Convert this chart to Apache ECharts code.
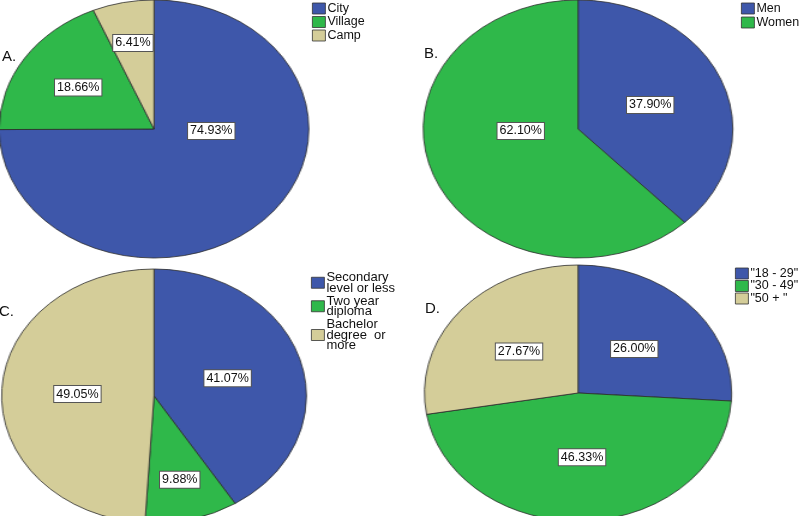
<!DOCTYPE html>
<html>
<head>
<meta charset="utf-8">
<script src="https://cdn.jsdelivr.net/npm/echarts@6/dist/echarts.min.js"></script>
<style>
html, body { margin: 0; padding: 0; background: #fff; overflow: hidden; }
#wrap { position: relative; width: 800px; height: 516px; overflow: hidden; }
/* slices are drawn as circles, then widened into SPSS-style ellipses */
#pies { position: absolute; left: 0; top: 0; width: 666.667px; height: 516px; transform: scaleX(1.2); transform-origin: 0 0; }
#labels { position: absolute; left: 0; top: 0; width: 800px; height: 516px; }
</style>
</head>
<body>
<div id="wrap"><div id="pies"></div><div id="labels"></div></div>
<script>
var residence = ['City', 'Village', 'Camp'];
var residenceValues = [74.93, 18.66, 6.41];
var gender = ['Men', 'Women'];
var genderValues = [37.90, 62.10];
var education = ['Secondary\nlevel or less', 'Two year\ndiploma', 'Bachelor\ndegree  or\nmore'];
var educationValues = [41.07, 9.88, 49.05];
var ageGroups = ['"18 - 29"', '"30 - 49"', '"50 + "'];
var ageValues = [26.00, 46.33, 27.67];
var panelLetters = ['A.', 'B.', 'C.', 'D.'];

var colors = ['#3e57aa', '#2fb84a', '#d4cd99'];
var STRETCH = 1.2;
var FONT = 'Liberation Sans, Arial, sans-serif';

var panels = [
    {names: residence, values: residenceValues, center: [154, 129], r: 129, letter: [2, 49], legend: [312, 2], gap: 0.5, fs: 12.5},
    {names: gender, values: genderValues, center: [578, 129], r: 129, letter: [424, 46], legend: [741, 2], gap: 1, fs: 12.5},
    {names: education, values: educationValues, center: [154, 396], r: 127, letter: [-1, 304], legend: [311, 271], gap: 0, fs: 13},
    {names: ageGroups, values: ageValues, center: [578, 393], r: 128, letter: [425, 301], legend: [735, 267], gap: -0.5, fs: 12.5}
];

function pieData(p, withColor) {
    return p.names.map(function (n, i) {
        var d = {name: n, value: p.values[i]};
        d.itemStyle = withColor ? {color: colors[i]} : {color: 'rgba(0,0,0,0)'};
        return d;
    });
}

var chart_pies = echarts.init(document.getElementById('pies'), null, {renderer: 'canvas'});
chart_pies.setOption({
    animation: false,
    series: panels.map(function (p) {
        return {
            type: 'pie',
            center: [p.center[0] / STRETCH, p.center[1]],
            radius: p.r,
            startAngle: 90,
            clockwise: true,
            silent: true,
            label: {show: false},
            labelLine: {show: false},
            itemStyle: {borderColor: '#2b2b2b', borderWidth: 0.8},
            emphasis: {disabled: true},
            data: pieData(p, true)
        };
    })
});

var chart_labels = echarts.init(document.getElementById('labels'), null, {renderer: 'canvas'});
chart_labels.setOption({
    animation: false,
    title: panels.map(function (p, i) {
        return {
            text: panelLetters[i], left: p.letter[0], top: p.letter[1], padding: 0,
            textStyle: {fontFamily: FONT, fontSize: 15, fontWeight: 'normal', color: '#111'}
        };
    }),
    legend: panels.map(function (p) {
        return {
            orient: 'vertical', left: p.legend[0], top: p.legend[1], padding: 0,
            icon: 'rect', itemWidth: 13, itemHeight: 11, itemGap: p.gap,
            selectedMode: false,
            textStyle: {fontFamily: FONT, fontSize: p.fs, color: '#111', lineHeight: 10.5, padding: [0, 0, 0, -3]},
            data: p.names.map(function (n, j) {
                return {name: n, itemStyle: {color: colors[j], borderColor: '#333', borderWidth: 0.8, opacity: 1}};
            })
        };
    }),
    series: panels.map(function (p) {
        return {
            type: 'pie',
            center: p.center,
            radius: p.r,
            startAngle: 90,
            clockwise: true,
            silent: true,
            itemStyle: {borderWidth: 0},
            emphasis: {disabled: true},
            labelLine: {show: false},
            label: {
                show: true,
                position: 'inside',
                formatter: function (d) { return d.value.toFixed(2) + '%'; },
                fontFamily: FONT,
                fontSize: 12.5,
                color: '#111',
                backgroundColor: '#fff',
                borderColor: '#555',
                borderWidth: 1,
                padding: [2, 2, 1, 2]
            },
            labelLayout: function (params) {
                var q = panels[params.seriesIndex];
                var v = q.values[params.dataIndex];
                var lr = params.labelRect;
                var lx = lr.x + lr.width / 2, ly = lr.y + lr.height / 2;
                var dx = lx - q.center[0], dy = ly - q.center[1];
                var nx, ny;
                if (v > 50) {
                    nx = q.center[0] + (dx >= 0 ? 1 : -1) * 0.37 * q.r * STRETCH;
                    ny = q.center[1] + 2;
                } else {
                    var f = v < 12 ? 1.3 : (v < 20 ? 1.12 : 0.96);
                    nx = q.center[0] + dx * f * STRETCH;
                    ny = q.center[1] + dy * f;
                }
                return {dx: nx - lx, dy: ny - ly};
            },
            data: pieData(p, false)
        };
    })
});
</script>
</body>
</html>
